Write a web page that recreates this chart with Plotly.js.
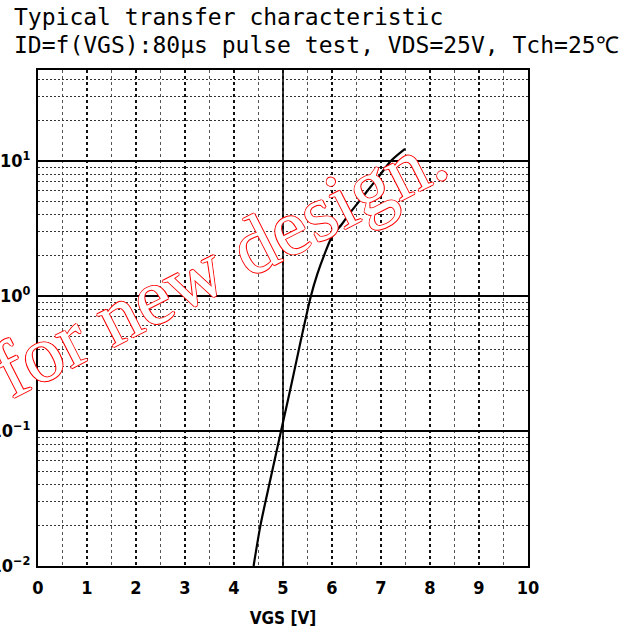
<!DOCTYPE html>
<html>
<head>
<meta charset="utf-8">
<script src="https://cdn.plot.ly/plotly-3.0.1.min.js"></script>
<style>html,body{margin:0;padding:0;background:#fff;}#chart{width:639px;height:634px;}</style>
</head>
<body>
<div id="chart"></div>
<script>
// Data
const VGS = [4.40, 4.54, 4.75, 4.96, 5.17, 5.37, 5.57, 5.70, 5.85, 6.00, 6.20, 6.35, 6.70, 6.97, 7.20, 7.49];
const ID  = [0.01, 0.02, 0.045, 0.10, 0.22, 0.48, 1.00, 1.45, 2.05, 2.75, 3.40, 4.05, 5.87, 7.80, 10.0, 12.3];

const xTicks = [0,1,2,3,4,5,6,7,8,9,10];
const xTickText = ['0','1','2','3','4','5','6','7','8','9','10'];
const yTicks = [0.01, 0.1, 1, 10];
const yTickText = ['10<sup>−2</sup>','10<sup>−1</sup>','10<sup>0</sup>','10<sup>1</sup>'];
const yMinor = [0.02,0.03,0.04,0.05,0.06,0.07,0.08,0.09,
                0.2,0.3,0.4,0.5,0.6,0.7,0.8,0.9,
                2,3,4,5,6,7,8,9,20,30,40];

const titleLine1 = 'Typical transfer characteristic';
const titleLine2 = 'ID=f(VGS):80μs pulse test, VDS=25V, Tch=25℃';
const xTitle = 'VGS [V]';
const watermark = 'for new design.';

const tickFont = {family: '"Liberation Sans Narrow", "DejaVu Sans Condensed", "Liberation Sans", sans-serif', size: 18, color: '#000', weight: 700};

const trace = {
  x: VGS, y: ID, type: 'scatter', mode: 'lines',
  line: {color: '#000', width: 2.2, shape: 'spline', smoothing: 0.8},
  hoverinfo: 'skip', showlegend: false
};

const layout = {
  width: 639, height: 634,
  margin: {l: 38, r: 111, t: 70, b: 68},
  paper_bgcolor: '#fff', plot_bgcolor: '#fff',
  showlegend: false,
  xaxis: {
    range: [0, 10], tickmode: 'array', tickvals: xTicks, ticktext: xTickText,
    showgrid: true, gridcolor: '#111', gridwidth: 1.4, griddash: 'dot',
    minor: {tickmode: 'linear', tick0: 0.5, dtick: 1, showgrid: true, gridcolor: '#555', gridwidth: 1, griddash: 'dot', ticks: ''},
    zeroline: false, showline: true, mirror: true, linecolor: '#000', linewidth: 2,
    ticks: '', tickfont: tickFont, ticklabelstandoff: 4,
    title: {text: xTitle, font: {family: '"Liberation Sans Narrow", "DejaVu Sans Condensed", sans-serif', size: 17, color: '#000', weight: 700}, standoff: 16}
  },
  yaxis: {
    type: 'log', range: [-2, 1.674], tickmode: 'array', tickvals: yTicks, ticktext: yTickText,
    showgrid: true, gridcolor: '#000', gridwidth: 1.5,
    minor: {tickmode: 'array', tickvals: yMinor, showgrid: true, gridcolor: '#333', gridwidth: 1, griddash: '2px,2px', ticks: ''},
    zeroline: false, showline: true, mirror: true, linecolor: '#000', linewidth: 2,
    ticks: '', tickfont: tickFont, ticklabelstandoff: 2
  },
  shapes: [
    {type: 'line', xref: 'x', yref: 'paper', x0: 5, x1: 5, y0: 0, y1: 1, line: {color: '#000', width: 1.6}, layer: 'below'}
  ],
  annotations: [
    {text: titleLine1, xref: 'paper', yref: 'paper', x: -0.053, y: 1.107, xanchor: 'left', yanchor: 'middle', showarrow: false,
     font: {family: '"DejaVu Sans Mono", "Liberation Mono", monospace', size: 23, color: '#000'}},
    {text: titleLine2, xref: 'paper', yref: 'paper', x: -0.053, y: 1.050, xanchor: 'left', yanchor: 'middle', showarrow: false,
     font: {family: '"DejaVu Sans Mono", "Liberation Mono", monospace', size: 23, color: '#000'}},
    {text: watermark, xref: 'paper', yref: 'paper', x: 0.37, y: 0.61, xanchor: 'center', yanchor: 'middle', showarrow: false, textangle: -27,
     font: {family: '"Liberation Serif", "DejaVu Serif", serif', size: 80, color: '#ffffff',
            shadow: '1px 0 0 #f00, -1px 0 0 #f00, 0 1px 0 #f00, 0 -1px 0 #f00'}}
  ]
};

Plotly.newPlot('chart', [trace], layout, {staticPlot: true, displayModeBar: false});
</script>
</body>
</html>
